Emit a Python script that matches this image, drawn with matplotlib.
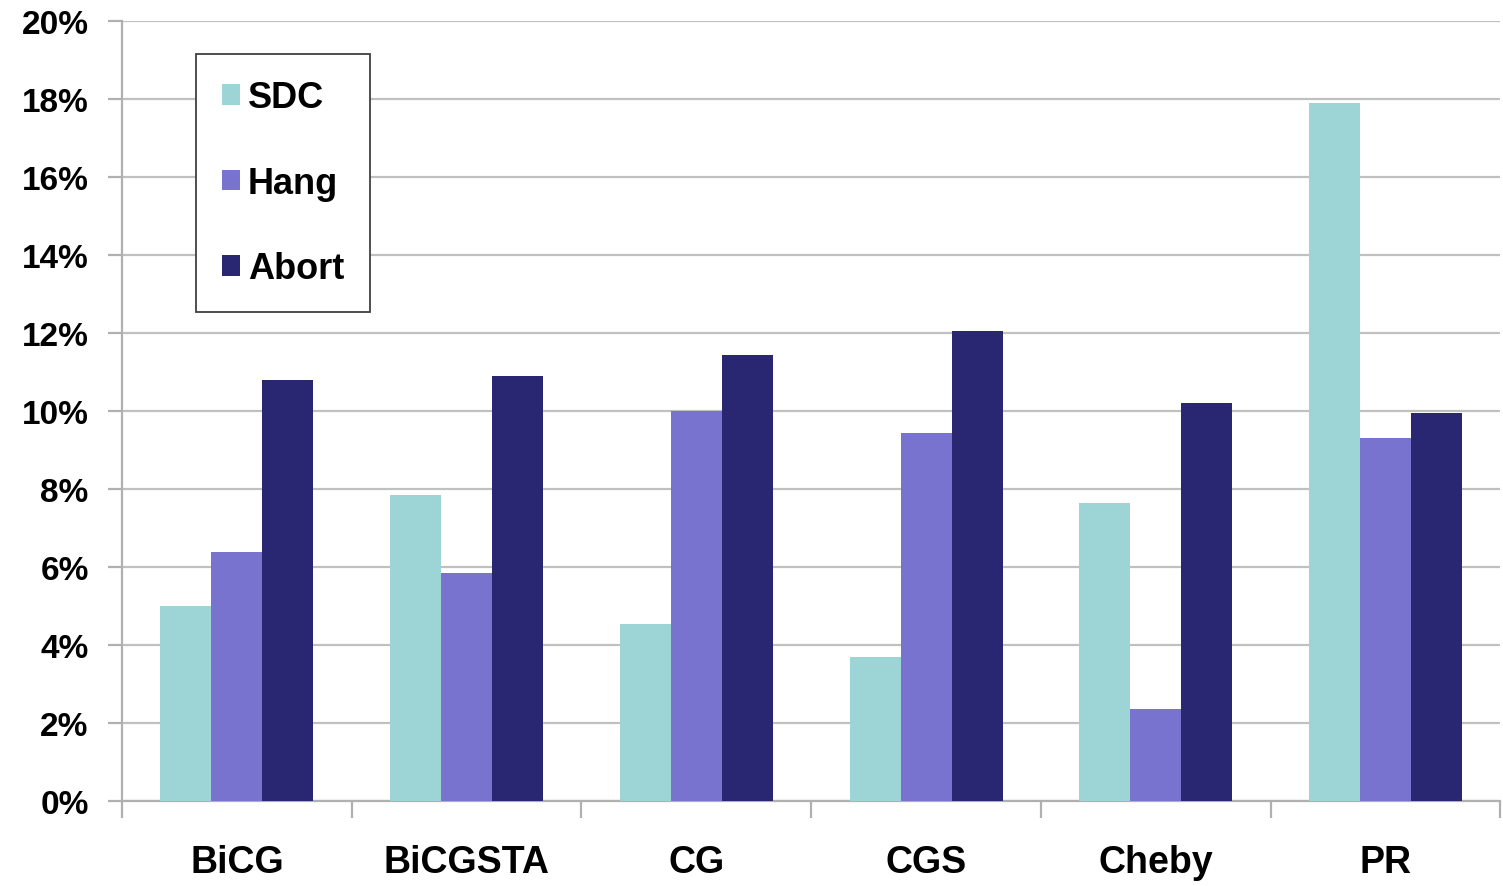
import numpy as np
import matplotlib.pyplot as plt
from matplotlib.ticker import FuncFormatter, MultipleLocator

plt.rcParams['font.family'] = ['Liberation Sans', 'DejaVu Sans']
plt.rcParams['font.weight'] = 'bold'

# failure rates per solver (%)
solvers = ['BiCG', 'BiCGSTA', 'CG', 'CGS', 'Cheby', 'PR']
sdc = [5.0, 7.85, 4.55, 3.7, 7.65, 17.9]
hang = [6.4, 5.85, 10.0, 9.45, 2.35, 9.3]
abort = [10.8, 10.9, 11.45, 12.05, 10.2, 9.95]
series = ['SDC', 'Hang', 'Abort']
colors = ['#9dd4d6', '#7873cf', '#292672']

fig = plt.figure(figsize=(15.03, 8.87), dpi=100)
ax = fig.add_axes([0.0812, 0.0958, 0.917, 0.879])

x = np.arange(len(solvers))
w = 0.222
for i, (vals, name, c) in enumerate(zip([sdc, hang, abort], series, colors)):
    ax.bar(x + (i - 1) * w, vals, w, color=c, label=name, zorder=3)

ax.set_xlim(-0.5, len(solvers) - 0.5)
ax.set_ylim(0, 20)
ax.yaxis.set_major_locator(MultipleLocator(2))
ax.yaxis.set_major_formatter(FuncFormatter(lambda v, p: '%d%%' % v))
ax.grid(axis='y', color='#c0c0c0', linewidth=1.6, zorder=0)

# category labels between boundary ticks
ax.set_xticks(np.arange(len(solvers) + 1) - 0.5)
ax.set_xticklabels([])
ax.set_xticks(x, minor=True)
ax.set_xticklabels(solvers, minor=True, fontsize=27, fontweight='bold')
ax.tick_params(axis='x', which='minor', length=0, pad=31)
ax.tick_params(axis='x', which='major', length=12, width=1.6, color='#b0b0b0')
ax.tick_params(axis='y', length=10, width=1.6, color='#b0b0b0', labelsize=24, pad=14)
for lab in ax.get_yticklabels():
    lab.set_fontweight('bold')

for s in ['top', 'right']:
    ax.spines[s].set_visible(False)
for s in ['left', 'bottom']:
    ax.spines[s].set_color('#b0b0b0')
    ax.spines[s].set_linewidth(1.6)

leg = ax.legend(loc='upper left', bbox_to_anchor=(0.0537, 0.958), borderaxespad=0,
                fontsize=26, fancybox=False, edgecolor='#404040', framealpha=1,
                handlelength=0.5, handleheight=0.5, handletextpad=0.22,
                labelspacing=1.4, borderpad=0.72)
leg.get_frame().set_linewidth(1.3)
for t in leg.get_texts():
    t.set_fontweight('bold')

fig.savefig('out.png', dpi=100)
